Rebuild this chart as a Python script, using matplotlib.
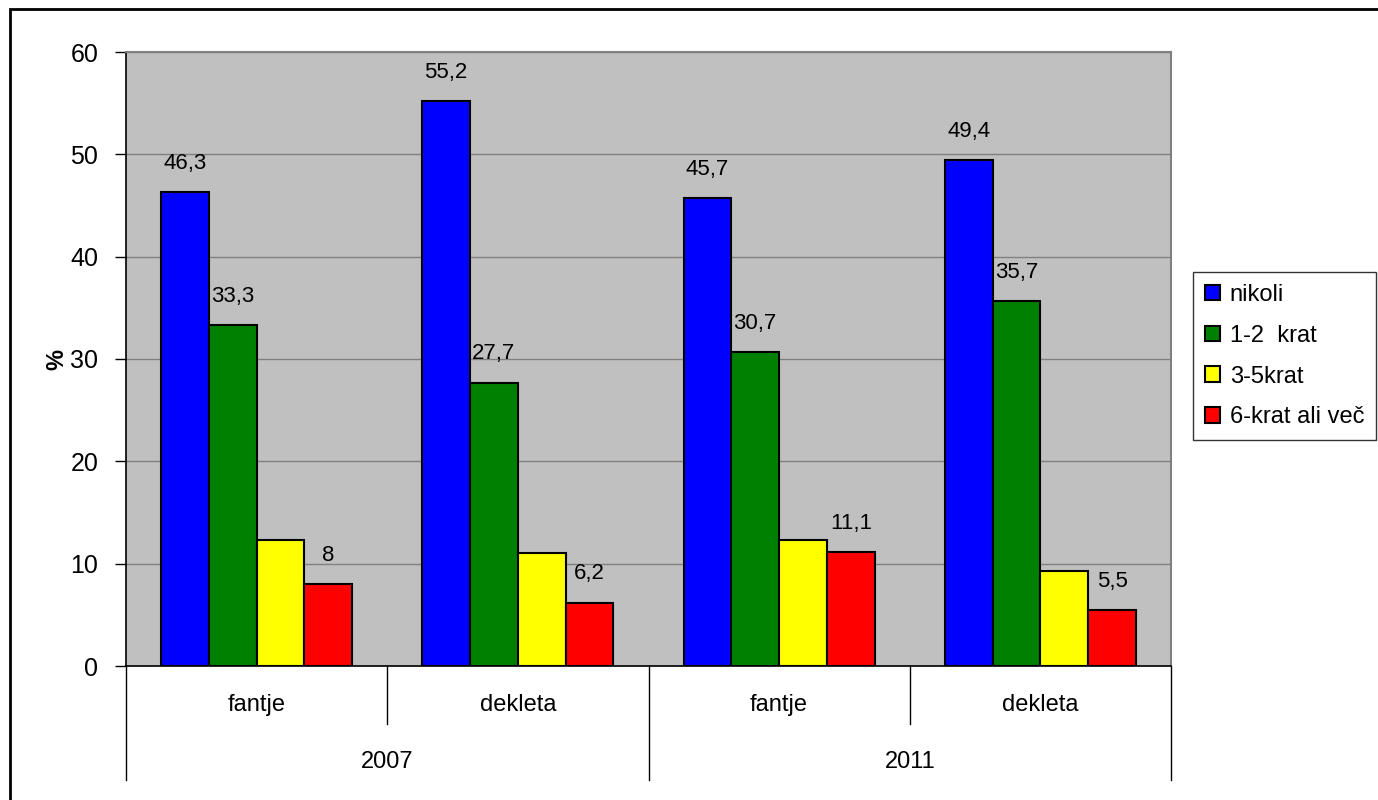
import numpy as np
import matplotlib
matplotlib.use("Agg")
import matplotlib.pyplot as plt
import matplotlib.transforms as mtransforms
from matplotlib.patches import Rectangle

plt.rcParams["font.family"] = ["Liberation Sans Narrow", "Liberation Sans", "DejaVu Sans"]

# Data
groups = ["fantje", "dekleta", "fantje", "dekleta"]
years = ["2007", "2011"]
series = ["nikoli", "1-2  krat", "3-5krat", "6-krat ali več"]
nikoli = [46.3, 55.2, 45.7, 49.4]
krat_1_2 = [33.3, 27.7, 30.7, 35.7]
krat_3_5 = [12.3, 11.0, 12.3, 9.3]
krat_6 = [8.0, 6.2, 11.1, 5.5]
show_labels = [True, True, False, True]

colors = ["#0000FF", "#008000", "#FFFF00", "#FF0000"]
FS = 17

fig = plt.figure(figsize=(13.78, 8), dpi=100)
ax = fig.add_axes([126 / 1378, 1 - 666 / 800, (1171 - 126) / 1378, (666 - 52) / 800])
ax.set_facecolor("#C0C0C0")

x = np.arange(len(groups))
w = 0.183
values = [nikoli, krat_1_2, krat_3_5, krat_6]
for i, (vals, col, lab) in enumerate(zip(values, colors, series)):
    pos = x + (i - 1.5) * w
    bars = ax.bar(pos, vals, width=w, color=col, edgecolor="black",
                  linewidth=1.5, label=lab, zorder=3)
    if show_labels[i]:
        for b, v in zip(bars, vals):
            txt = f"{v:g}".replace(".", ",")
            ax.annotate(txt, (b.get_x() + b.get_width() / 2, v),
                        xytext=(0, 13), textcoords="offset points",
                        ha="center", va="bottom", fontsize=FS - 1, color="black")

ax.set_xlim(-0.5, 3.5)
ax.set_ylim(0, 60)
ax.set_yticks(range(0, 61, 10))
ax.tick_params(axis="y", labelsize=FS + 1, length=8, width=1, pad=12, direction="out")
ax.set_xticks([])
ax.yaxis.grid(True, color="#808080", linewidth=1, zorder=0)
ax.set_axisbelow(True)
ax.set_ylabel("%", fontsize=FS, fontweight="bold", labelpad=1)

for s in ["top", "right"]:
    ax.spines[s].set_color("#808080")
    ax.spines[s].set_linewidth(1.5)
ax.spines["left"].set_color("black")
ax.spines["bottom"].set_color("black")
ax.spines["left"].set_linewidth(1.2)
ax.spines["bottom"].set_linewidth(1.2)

# Category axis (two levels)
trans = mtransforms.blended_transform_factory(ax.transData, ax.transAxes)
for b in [-0.5, 0.5, 1.5, 2.5, 3.5]:
    bottom = -0.186 if b in (-0.5, 1.5, 3.5) else -0.0945
    ax.plot([b, b], [0, bottom], color="black", linewidth=1,
            transform=trans, clip_on=False)
for xi, g in zip(x, groups):
    ax.text(xi, -0.0635, g, transform=trans, ha="center", va="center", fontsize=FS)
for j, y in enumerate(years):
    ax.text(0.5 + 2 * j, -0.156, y, transform=trans, ha="center", va="center", fontsize=FS)

leg = fig.legend(loc="upper left", bbox_to_anchor=(1193 / 1378, 1 - 272 / 800),
                 fontsize=FS, frameon=True, fancybox=False, edgecolor="black",
                 handlelength=0.65, handleheight=0.65, handletextpad=0.4,
                 labelspacing=0.8, borderpad=0.5, borderaxespad=0)
leg.get_frame().set_linewidth(1)

# Outer chart border
fig.patches.append(Rectangle((10 / 1378, -0.1), 1.2, 1.1 - 9 / 800,
                             transform=fig.transFigure, fill=False,
                             edgecolor="black", linewidth=2))

fig.savefig("out.png", dpi=100)
